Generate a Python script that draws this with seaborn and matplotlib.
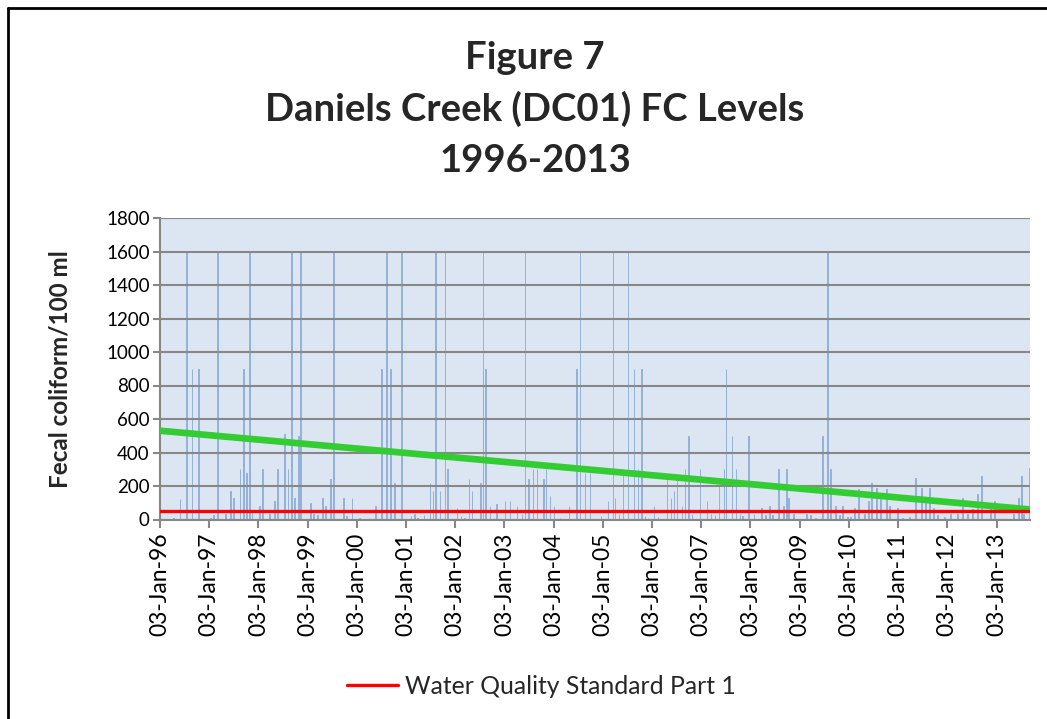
import matplotlib
matplotlib.use("Agg")
import matplotlib.pyplot as plt
from matplotlib.lines import Line2D
import seaborn as sns
import pandas as pd

# ---------------- data ----------------
sample_dates = [
    "1996-04-12", "1996-06-01", "1996-07-17", "1996-08-26", "1996-10-14",
    "1997-01-13", "1997-02-04", "1997-03-04", "1997-05-03", "1997-06-10",
    "1997-07-02", "1997-08-20", "1997-09-13", "1997-10-06", "1997-10-28",
    "1997-11-17", "1998-01-11", "1998-02-03", "1998-03-26", "1998-05-02",
    "1998-05-24", "1998-07-15", "1998-08-11", "1998-09-05", "1998-09-27",
    "1998-10-27", "1998-11-10", "1999-01-25", "1999-02-16", "1999-03-17",
    "1999-04-23", "1999-05-16", "1999-06-22", "1999-07-14", "1999-09-27",
    "1999-10-19", "1999-11-28", "2000-01-24", "2000-04-01", "2000-05-22",
    "2000-07-05", "2000-08-12", "2000-09-10", "2000-10-10", "2000-11-29",
    "2001-02-07", "2001-03-08", "2001-03-30", "2001-05-14", "2001-06-28",
    "2001-07-20", "2001-08-11", "2001-09-10", "2001-10-17", "2001-11-08",
    "2002-01-15", "2002-02-13", "2002-03-14", "2002-04-13", "2002-05-06",
    "2002-07-11", "2002-07-26", "2002-08-17", "2002-09-16", "2002-10-16",
    "2002-11-06", "2003-01-06", "2003-02-12", "2003-04-05", "2003-05-12",
    "2003-06-03", "2003-07-02", "2003-08-02", "2003-08-31", "2003-10-20",
    "2003-11-06", "2003-12-06", "2004-01-05", "2004-02-18", "2004-04-26",
    "2004-06-22", "2004-07-17", "2004-08-22", "2004-09-28", "2004-12-21",
    "2005-02-10", "2005-03-18", "2005-04-03", "2005-05-02", "2005-06-01",
    "2005-07-08", "2005-08-22", "2005-09-20", "2005-10-16", "2005-11-12",
    "2005-12-04", "2006-01-18", "2006-02-17", "2006-04-24", "2006-05-24",
    "2006-06-15", "2006-07-07", "2006-08-13", "2006-09-05", "2006-09-30",
    "2006-10-27", "2006-12-25", "2007-02-16", "2007-03-17", "2007-04-16",
    "2007-05-16", "2007-06-22", "2007-07-07", "2007-08-20", "2007-09-19",
    "2007-10-19", "2007-11-03", "2007-12-18", "2008-01-30", "2008-03-23",
    "2008-04-22", "2008-05-22", "2008-06-13", "2008-07-28", "2008-09-06",
    "2008-09-25", "2008-10-10", "2008-11-16", "2009-02-21", "2009-03-23",
    "2009-04-29", "2009-06-09", "2009-06-20", "2009-07-27", "2009-08-18",
    "2009-09-24", "2009-10-23", "2009-11-15", "2009-12-22", "2010-01-13",
    "2010-02-12", "2010-03-14", "2010-04-27", "2010-05-27", "2010-06-18",
    "2010-07-25", "2010-08-24", "2010-10-08", "2010-10-30", "2010-12-29",
    "2011-02-04", "2011-03-28", "2011-05-12", "2011-06-25", "2011-07-25",
    "2011-08-24", "2011-09-23", "2011-10-22", "2011-12-13", "2012-01-26",
    "2012-03-18", "2012-04-26", "2012-06-02", "2012-07-09", "2012-08-15",
    "2012-09-14", "2012-11-20", "2012-12-20", "2013-05-09", "2013-06-15",
    "2013-07-08", "2013-07-23", "2013-09-06",
]
fc_values = [
    10, 120, 1600, 900, 900,
    10, 25, 1600, 35, 170,
    130, 300, 900, 280, 1600,
    40, 80, 300, 35, 110,
    300, 510, 300, 1600, 130,
    500, 1600, 100, 35, 25,
    130, 80, 240, 1600, 130,
    20, 130, 10, 10, 80,
    900, 1600, 900, 220, 1600,
    20, 35, 10, 25, 220,
    170, 1600, 170, 1600, 300,
    70, 20, 10, 240, 170,
    220, 1600, 900, 80, 10,
    90, 110, 110, 80, 35,
    1600, 240, 300, 300, 240,
    300, 140, 80, 10, 80,
    900, 1600, 280, 280, 20,
    110, 1600, 130, 35, 270,
    1600, 900, 300, 900, 20,
    10, 80, 15, 240, 130,
    170, 240, 80, 300, 500,
    35, 300, 110, 35, 25,
    200, 300, 900, 500, 300,
    35, 20, 500, 35, 70,
    25, 80, 25, 300, 80,
    300, 130, 35, 35, 25,
    10, 10, 500, 1600, 300,
    80, 25, 80, 15, 15,
    70, 180, 35, 110, 220,
    190, 160, 180, 80, 70,
    10, 15, 250, 190, 100,
    190, 70, 25, 15, 35,
    35, 130, 35, 60, 150,
    260, 60, 110, 35, 130,
    260, 35, 310,
]

trend_dates = ["1996-01-03", "2013-09-08"]
trend_values = [530, 60]

standard_dates = ["1996-01-03", "2013-09-08"]
standard_values = [50, 50]
standard_label = "Water Quality Standard Part 1"

tick_dates = [f"{y}-01-03" for y in range(1996, 2014)]
y_ticks = list(range(0, 1801, 200))

title_lines = ["Figure 7", "Daniels Creek (DC01) FC Levels", "1996-2013"]
y_label = "Fecal coliform/100 ml"

# ---------------- styling ----------------
sns.set_theme(style="white")
plt.rcParams["font.family"] = ["Lato", "DejaVu Sans"]

df = pd.DataFrame({"date": pd.to_datetime(sample_dates), "fc": fc_values})
trend = pd.DataFrame({"date": pd.to_datetime(trend_dates), "fc": trend_values})
std = pd.DataFrame({"date": pd.to_datetime(standard_dates), "fc": standard_values})

W, H = 1047, 719
fig = plt.figure(figsize=(W / 100, H / 100), dpi=100)
ax = fig.add_axes([160 / W, 1 - 519.5 / H, 870 / W, 301.5 / H])
ax.set_facecolor("#dce6f2")

bar_color = "#93b1d9"
ax.bar(df["date"], df["fc"], width=4, color=bar_color, edgecolor=bar_color,
       linewidth=0.7, zorder=2)
sns.lineplot(data=trend, x="date", y="fc", color="#33cc33", lw=4.8, ax=ax,
             zorder=4, legend=False)
sns.lineplot(data=std, x="date", y="fc", color="#ff0000", lw=2.4, ax=ax,
             zorder=5, legend=False)

ax.set_xlim(pd.Timestamp("1996-01-03"), pd.Timestamp("2013-09-08"))
ax.set_ylim(0, 1800)
ax.set_yticks(y_ticks)
ax.set_yticklabels([str(v) for v in y_ticks], fontsize=13.5)
ticks = pd.to_datetime(tick_dates)
ax.set_xticks(ticks)
ax.set_xticklabels([t.strftime("%d-%b-%y") for t in ticks], rotation=90,
                   fontsize=16.5)

ax.set_axisbelow(False)
ax.yaxis.grid(True, color="#878787", lw=1.5, zorder=3)
ax.xaxis.grid(False)
for s in ["top", "right"]:
    ax.spines[s].set_visible(False)
for s in ["left", "bottom"]:
    ax.spines[s].set_color("#878787")
    ax.spines[s].set_linewidth(1.5)
ax.tick_params(axis="both", which="both", direction="out", length=5.4,
               width=1.5, color="#878787", labelcolor="black",
               bottom=True, left=True)
ax.tick_params(axis="x", pad=4)
ax.tick_params(axis="y", pad=2)

ax.set_xlabel("")
ax.set_ylabel(y_label, fontsize=17.5, fontweight="bold")
ax.yaxis.set_label_coords(-(160 - 71) / 870, 0.5)

for txt, yy in zip(title_lines, [58, 109, 161]):
    fig.text(535 / W, 1 - yy / H, txt, ha="center", va="center",
             fontsize=27.5, fontweight="bold")

handle = Line2D([], [], color="#ff0000", lw=2.4)
fig.legend([handle], [standard_label], loc="center",
           bbox_to_anchor=(541 / W, 1 - 686 / H), frameon=False,
           fontsize=17.8, handlelength=2.1, handletextpad=0.25)

# outer chart border (top and left visible in the reference)
fig.add_artist(Line2D([8 / W, 8 / W], [0, 1 - 8 / H], color="black",
                      lw=2, transform=fig.transFigure))
fig.add_artist(Line2D([8 / W, 1], [1 - 8 / H, 1 - 8 / H],
                      color="black", lw=2, transform=fig.transFigure))

fig.savefig("out.png", dpi=100)
